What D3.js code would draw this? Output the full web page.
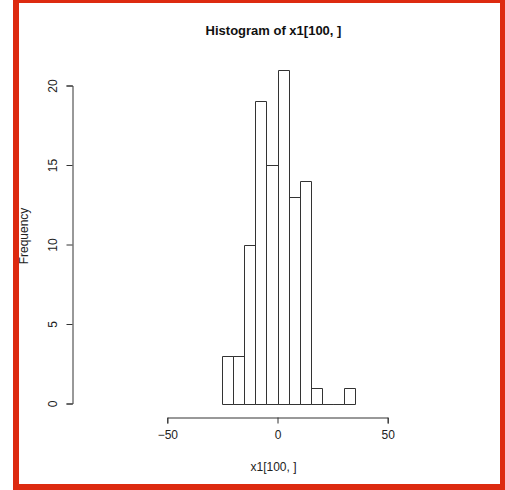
<!DOCTYPE html>
<html><head><meta charset="utf-8">
<script src="https://cdn.jsdelivr.net/npm/d3@7"></script>
<style>
html,body{margin:0;padding:0;background:#fff;}
svg{display:block;}
text{font-family:"Liberation Sans",Arial,Helvetica,sans-serif;}
</style></head>
<body>
<script>
const binStarts = [-25,-20,-15,-10,-5,0,5,10,15,20,25,30];
const binWidth = 5;
const counts = [3,3,10,19,15,21,13,14,1,0,0,1];
const xTicks = [-50,0,50];
const yTicks = [0,5,10,15,20];
const title = "Histogram of x1[100, ]";
const xLabel = "x1[100, ]";
const yLabel = "Frequency";

const W = 505, H = 490;
const svg = d3.select("body").append("svg").attr("width", W).attr("height", H);

// red frame
svg.append("rect").attr("x",13).attr("y",0).attr("width",W-13).attr("height",H).attr("fill","#dd2a10");
svg.append("rect").attr("x",19).attr("y",3).attr("width",481).attr("height",481).attr("fill","#fff");

const x = d3.scaleLinear().domain([-50,50]).range([167.3,387.7]);
const y = d3.scaleLinear().domain([0,20]).range([403.5,85.5]);

// bars (drawn as closed paths so zero-height bins still show as a line)
svg.append("g").selectAll("path").data(binStarts.map((s,i)=>({s,c:counts[i]})))
  .join("path")
  .attr("d", d=>{
    const x0 = Math.round(x(d.s))+0.5, x1 = Math.round(x(d.s+binWidth))+0.5;
    const y0 = Math.round(y(0))+0.5, y1 = Math.round(y(d.c))+0.5;
    return `M${x0},${y0}L${x0},${y1}L${x1},${y1}L${x1},${y0}Z`;
  })
  .attr("fill","none").attr("stroke","#333").attr("stroke-width",1);

const fontCss = "Liberation Sans, Arial, sans-serif";
// x axis
const gx = svg.append("g").attr("transform","translate(0,417.5)")
  .call(d3.axisBottom(x).tickValues(xTicks).tickSizeOuter(0).tickSize(6).tickPadding(7).tickFormat(d=>d<0?"\u2212"+Math.abs(d):d));
gx.selectAll("path,line").attr("stroke","#333");
gx.selectAll("text").attr("font-size",12).attr("fill","#222").style("font-family",fontCss);

// y axis
const gy = svg.append("g").attr("transform","translate(72.5,0)")
  .call(d3.axisLeft(y).tickValues(yTicks).tickSizeOuter(0).tickSize(6).tickFormat(d3.format("d")));
gy.selectAll("path,line").attr("stroke","#333");
gy.selectAll("text").attr("font-size",12).attr("fill","#222")
  .style("font-family",fontCss)
  .attr("text-anchor","middle").attr("x",null)
  .attr("transform","translate(-20,0) rotate(-90)").attr("dy","0.35em");

// title
svg.append("text").attr("x",273.5).attr("y",35).attr("text-anchor","middle")
  .attr("font-size",13).attr("font-weight","bold").attr("fill","#111").text(title);
// x label
svg.append("text").attr("x",273.5).attr("y",471).attr("text-anchor","middle")
  .attr("font-size",12).attr("fill","#222").text(xLabel);
// y label
svg.append("text").attr("transform","translate(28,236) rotate(-90)").attr("text-anchor","middle")
  .attr("font-size",12).attr("fill","#222").text(yLabel);
</script>
</body></html>
